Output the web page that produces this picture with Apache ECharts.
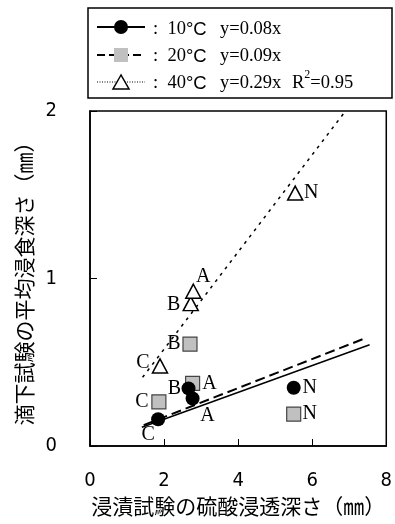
<!DOCTYPE html>
<html><head><meta charset="utf-8">
<script src="https://cdn.jsdelivr.net/npm/echarts@6/dist/echarts.min.js"></script>
<style>html,body{margin:0;padding:0;background:#fff}#c{width:395px;height:524px}</style>
</head><body><div id="c"></div>
<script>
// ---- data ----
const pointNames = ['C', 'B', 'A', 'N'];
const x10 = [1.84, 2.66, 2.77, 5.50];
const y10 = [0.16, 0.344, 0.284, 0.348];
const x20 = [1.86, 2.70, 2.77, 5.50];
const y20 = [0.264, 0.608, 0.374, 0.19];
const x40 = [1.89, 2.72, 2.79, 5.54];
const y40 = [0.478, 0.85, 0.924, 1.51];
const fit10X = [1.40, 7.55], fit10Y = [0.112, 0.604];
const fit20X = [1.45, 7.45], fit20Y = [0.125, 0.645];
const fit40X = [1.42, 6.90], fit40Y = [0.41, 2.00];
const seriesTemps = ['10', '20', '40'];
const seriesEq = ['y=0.08x', 'y=0.09x', 'y=0.29x'];
const r2Text = '0.95';
const xTicks = [0, 2, 4, 6, 8];
const yTicks = [0, 1, 2];
const xName = '浸漬試験の硫酸浸透深さ（㎜）';
const yName = '滴下試験の平均浸食深さ（㎜）';

// label offsets (style only)
const labelOffsets = {
  '10': {C: [-10, 16], B: [-14, 0], A: [15, 17], N: [16, 0]},
  '20': {C: [-17, 0], B: [-16, 0], A: [17, 0], N: [16, 0]},
  '40': {C: [-17, -3], B: [-17, 1], A: [10, -14], N: [16, 0]}
};
const serif = "'Liberation Serif','Times New Roman',serif";
const sans = "'Liberation Sans',Arial,sans-serif";
const narrow = "'Liberation Sans Narrow','DejaVu Sans Condensed','Noto Sans CJK JP',sans-serif";
const cjk = "'Noto Sans CJK JP',sans-serif";

function labelStyle(off) {
  return {show: true, position: 'inside', offset: off, formatter: p => p.name,
    color: '#000', fontFamily: serif, fontSize: 20};
}
function pts(xs, ys, key) {
  return xs.map((x, i) => ({
    value: [x, ys[i]],
    name: pointNames[i],
    label: labelStyle(labelOffsets[key][pointNames[i]])
  }));
}
function line(xs, ys) { return xs.map((x, i) => [x, ys[i]]); }

const legRich = {
  a: {fontFamily: serif, fontSize: 18.5, color: '#000', lineHeight: 24, verticalAlign: 'bottom'},
  c: {fontFamily: sans, fontSize: 18.5, color: '#000', lineHeight: 24, verticalAlign: 'bottom'},
  s: {fontFamily: serif, fontSize: 12, color: '#000', lineHeight: 12, verticalAlign: 'top'}
};
function legText(x, y, text) {
  return {type: 'text', x: x, y: y, z: 12,
    style: {text: text, rich: legRich, verticalAlign: 'middle', fill: '#000'}};
}

const chart = echarts.init(document.getElementById('c'), null, {renderer: 'canvas'});
chart.setOption({
  animation: false,
  backgroundColor: '#fff',
  grid: {left: 90, right: 2, top: 111, bottom: 78, show: true, borderColor: '#000', borderWidth: 1.5, containLabel: false},
  xAxis: {
    type: 'value', min: xTicks[0], max: xTicks[xTicks.length - 1], interval: 2,
    name: xName, nameLocation: 'middle', nameGap: 50,
    nameTextStyle: {fontFamily: cjk, fontSize: 21, color: '#000'},
    axisLine: {lineStyle: {color: '#000', width: 1.5}},
    axisTick: {inside: true, length: 7, lineStyle: {color: '#000', width: 1}},
    axisLabel: {margin: 25, fontFamily: narrow, fontSize: 20, color: '#000'},
    splitLine: {show: false}
  },
  yAxis: {
    type: 'value', min: yTicks[0], max: yTicks[yTicks.length - 1], interval: 1,
    name: yName, nameLocation: 'middle', nameGap: 55, nameRotate: 90,
    nameTextStyle: {fontFamily: cjk, fontSize: 21, color: '#000'},
    axisLine: {lineStyle: {color: '#000', width: 1.5}},
    axisTick: {inside: true, length: 7, lineStyle: {color: '#000', width: 1}},
    axisLabel: {margin: 33, fontFamily: narrow, fontSize: 20, color: '#000'},
    splitLine: {show: false}
  },
  series: [
    {type: 'line', data: line(fit40X, fit40Y), showSymbol: false, symbol: 'none', clip: true,
      lineStyle: {color: '#000', width: 1.5, type: [3, 5]}, z: 1},
    {type: 'line', data: line(fit20X, fit20Y), showSymbol: false, symbol: 'none',
      lineStyle: {color: '#000', width: 2, type: [10, 5]}, z: 1},
    {type: 'line', data: line(fit10X, fit10Y), showSymbol: false, symbol: 'none',
      lineStyle: {color: '#000', width: 1.5}, z: 1},
    {type: 'scatter', data: pts(x40, y40, '40'), symbol: 'triangle', symbolSize: [15, 14],
      itemStyle: {color: '#fff', borderColor: '#000', borderWidth: 1.5, opacity: 1}, z: 3},
    {type: 'scatter', data: pts(x20, y20, '20'), symbol: 'rect', symbolSize: 14,
      itemStyle: {color: '#c0c0c0', borderColor: '#444', borderWidth: 1.2, opacity: 1}, z: 3},
    {type: 'scatter', data: pts(x10, y10, '10'), symbol: 'circle', symbolSize: 14,
      itemStyle: {color: '#000', opacity: 1}, z: 4}
  ],
  graphic: [
    {type: 'rect', shape: {x: 88, y: 8, width: 304, height: 90}, style: {fill: '#fff', stroke: '#000', lineWidth: 1.5}, z: 10},
    {type: 'line', shape: {x1: 97, y1: 27, x2: 145, y2: 27}, style: {stroke: '#000', lineWidth: 2}, z: 11},
    {type: 'circle', shape: {cx: 121, cy: 27, r: 7}, style: {fill: '#000'}, z: 12},
    {type: 'line', shape: {x1: 97, y1: 55, x2: 145, y2: 55}, style: {stroke: '#000', lineWidth: 2, lineDash: [8, 4]}, z: 11},
    {type: 'rect', shape: {x: 114, y: 48, width: 14, height: 14}, style: {fill: '#c0c0c0'}, z: 12},
    {type: 'line', shape: {x1: 97, y1: 82, x2: 145, y2: 82}, style: {stroke: '#000', lineWidth: 1, lineDash: [1, 1.5]}, z: 11},
    {type: 'polygon', shape: {points: [[121, 75], [113, 89], [129, 89]]}, style: {fill: '#fff', stroke: '#000', lineWidth: 1.5}, z: 12},
    legText(153, 27, '{a|:  ' + seriesTemps[0] + '}{c|°C}'),
    legText(153, 54, '{a|:  ' + seriesTemps[1] + '}{c|°C}'),
    legText(153, 81, '{a|:  ' + seriesTemps[2] + '}{c|°C}'),
    legText(220, 27, '{a|' + seriesEq[0] + '}'),
    legText(220, 54, '{a|' + seriesEq[1] + '}'),
    legText(220, 81, '{a|' + seriesEq[2] + '}'),
    legText(292, 81, '{a|R}{s|2}{a|=' + r2Text + '}')
  ]
});
</script></body></html>
